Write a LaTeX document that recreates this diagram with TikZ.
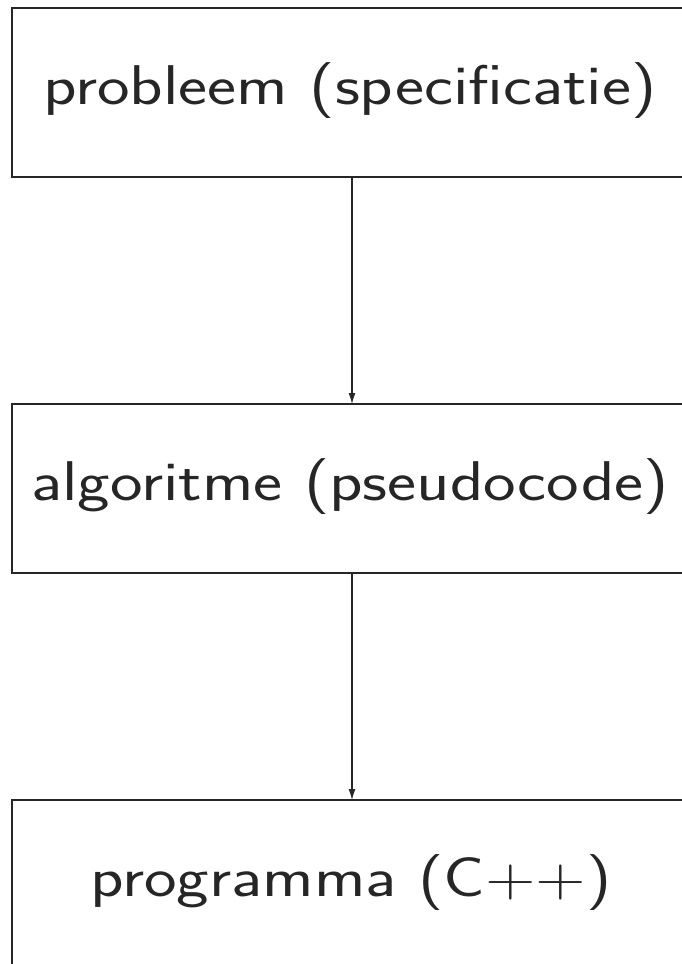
\documentclass[tikz,border=0pt]{standalone}
\usepackage{graphicx}
\usetikzlibrary{arrows.meta}
\newcommand{\widetxt}[1]{\scalebox{1.235}[1]{#1}}
\begin{document}
\begin{tikzpicture}[x=1pt,y=-1pt,
  stagebox/.style={draw=black!85, line width=1.6pt, minimum width=686pt, minimum height=169pt, inner sep=0pt},
  stagetext/.style={font=\sffamily\fontsize{56}{60}\selectfont, text=black!85, inner sep=0pt},
  flow/.style={draw=black!85, line width=1.2pt, -{Latex[length=11pt,width=7pt]}}]
\useasboundingbox (0,0) rectangle (682,964);
\begin{scope}
\clip (0,0) rectangle (682,964);
\node[stagebox] (p) at (355,92.5) {};
\node[stagebox] (a) at (355,488.5) {};
\node[stagebox] (c) at (355,884.5) {};
\node[stagetext] (pt) at (350,90.5) {\widetxt{probleem (specificatie)}};
\node[stagetext] (at) at (350,486.5) {\widetxt{algoritme (pseudocode)}};
\node[stagetext] (ct) at (351,882.5) {\widetxt{programma (C++)}};
\coordinate (p1) at (352,177);
\coordinate (a0) at (352,404);
\coordinate (a1) at (352,573);
\coordinate (c0) at (352,800);
\draw[flow] (p1) -- (a0);
\draw[flow] (a1) -- (c0);
\end{scope}
\end{tikzpicture}
\end{document}
